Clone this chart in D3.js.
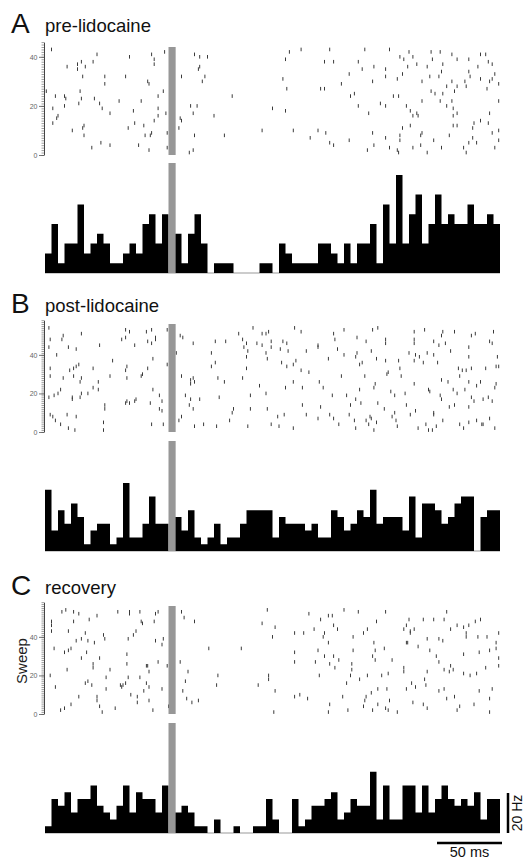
<!DOCTYPE html>
<html>
<head>
<meta charset="utf-8">
<script src="https://cdn.jsdelivr.net/npm/d3@7"></script>
<style>
  body { margin: 0; background: #fff; }
  svg { display: block; }
  text { font-family: "Liberation Sans", Arial, Helvetica, sans-serif; }
</style>
</head>
<body>
<svg id="chart" width="525" height="860"></svg>
<script>

// ---- data (times in ms relative to stimulus, sweep number; rates in Hz, 5 ms bins from -100 ms) ----

var panelLetters = ["A", "B", "C"];
var conditions = ["pre-lidocaine", "post-lidocaine", "recovery"];
var sweepCounts = [44, 56, 56];
var sweepTicks = [0, 20, 40];

var histA = [9.8,24.5,4.9,14.7,14.7,34.3,9.8,14.7,19.6,14.7,
    4.9,4.9,9.8,14.7,9.8,24.5,29.4,14.7,29.4,0,
    19.6,4.9,19.6,29.4,14.7,0,4.9,4.9,4.9,0,
    0,0,0,4.9,4.9,0,14.7,9.8,4.9,4.9,
    4.9,4.9,14.7,14.7,9.8,4.9,14.7,4.9,14.7,14.7,
    24.5,4.9,34.3,14.7,49,14.7,29.4,39.2,14.7,24.5,
    39.2,24.5,29.4,24.5,24.5,34.3,24.5,24.5,29.4,24.5];

var histB = [30.6,10.2,20.4,13.6,23.8,17,3.4,10.2,13.6,13.6,
    3.4,6.8,34,6.8,6.8,13.6,27.2,13.6,13.6,0,
    17,10.2,20.4,6.8,3.4,6.8,13.6,3.4,6.8,6.8,
    13.6,20.4,20.4,20.4,20.4,6.8,17,13.6,13.6,13.6,
    10.2,13.6,6.8,6.8,20.4,17,10.2,13.6,20.4,17,
    30.6,13.6,17,17,17,10.2,27.2,6.8,23.8,23.8,
    20.4,13.6,17,23.8,27.2,27.2,0,17,20.4,20.4];

var histC = [3.4,17,13.6,20.4,10.2,17,17,23.8,13.6,10.2,
    6.8,13.6,23.8,10.2,20.4,17,17,10.2,23.8,0,
    10.2,13.6,10.2,3.4,3.4,0,6.8,0,0,3.4,
    0,0,3.4,3.4,17,6.8,0,0,17,3.4,
    6.8,13.6,13.6,17,20.4,6.8,10.2,17,13.6,13.6,
    30.6,6.8,23.8,6.8,6.8,23.8,23.8,10.2,23.8,10.2,
    17,23.8,17,13.6,17,13.6,20.4,6.8,17,17];

var rasterA = [
    [-95,43],[-60,41],[-35,40],[-18,41],[-8,42],[-16,39],[-16,37],[15,41],[19,40],[25,40],[18,35],[19,36],
    [-83,36],[-75,37],[-72,38],[-75,35],[-63,38],[-69,36],[-71,32],[-54,32],[-54,29],[-38,32],[-21,30],[-20,29],[5,32],[23,32],[21,30],
    [-99,26],[-92,24],[-85,24],[-84,23],[-73,26],[-72,23],[-9,26],[-13,24],[44,24],
    [-94,19],[-85,20],[-74,21],[-62,23],[-58,21],[-56,19],[-50,17],[-43,22],[-32,18],[-26,22],[-13,19],[-7,17],[-13,16],[-16,14],[12,20],[17,20],[14,17],[30,16],
    [-94,13],[-91,15],[-90,16],[4,15],[5,14],[-79,10],[-71,11],[-70,12],[-36,11],[-31,13],[-24,12],
    [-70,8],[-23,8],[-19,8],[-18,9],[-6,9],[3,11],[15,8],[38,8],
    [-64,3],[-57,5],[-50,4],[-28,4],[-20,2],[-6,3],[11,1],[14,2],
    [88,42],[97,43],[119,43],[146,43],[165,43],[85,39],[115,38],[122,38],[141,38],[144,35],[153,36],[162,35],
    [173,40],[176,39],[180,42],[183,40],[186,37],[194,36],[197,42],[198,39],[204,42],[206,37],[213,41],[217,39],[226,39],[235,41],[239,41],[241,38],[244,37],
    [83,31],[86,27],[112,27],[115,27],[128,29],[134,33],[152,30],[162,32],[171,31],[175,33],[179,36],[190,30],[196,32],[203,32],[205,34],[209,28],[213,30],[215,26],[217,28],[223,30],[224,28],[226,34],[227,32],[233,36],[235,31],[240,27],[242,30],[244,31],[246,33],[249,29],
    [75,19],[85,18],[135,24],[138,25],[141,20],[149,17],[158,21],[162,20],[168,24],[172,24],[178,20],[181,18],[183,16],[186,17],[187,16],[190,22],[197,26],[200,25],[204,22],[206,25],[209,20],[213,22],[214,19],[217,17],[214,16],[235,14],[242,17],[249,22],
    [67,10],[91,10],[104,7],[110,10],[116,9],[119,5],[122,4],[134,6],[148,2],[152,9],[153,4],[162,7],[165,3],[171,2],[172,1],[173,8],[173,6],[175,11],[183,3],[181,12],[189,8],[190,9],[189,4],[194,1],[199,6],[205,3],[211,8],[214,12],[217,12],[222,3],[224,1],[226,5],[229,7],[230,13],[229,11],[232,5],[241,13],[244,9],[246,3],[249,10],[249,6]
];

var rasterB = [
    [-97,54],[-96,48],[-87,48],[-86,50],[-72,51],[-82,44],[-76,43],[-97,44],[-91,40],[-58,45],[-96,33],[-81,32],[-78,33],[-76,34],[-74,35],[-63,33],[-78,29],[-72,28],[-73,26],[-86,28],[-96,29],[-50,29],[-48,37],
    [-38,53],[-35,52],[-41,48],[-38,49],[-31,45],[-22,52],[-18,53],[-21,47],[-18,46],[-15,49],[-15,48],[-6,35],[-17,38],[-38,32],[-37,34],[-37,28],[-26,29],[-25,30],[-21,33],
    [-59,26],[-63,23],[-59,22],[-88,22],[-93,19],[-97,18],[-90,20],[-73,18],[-79,18],[-79,17],[-72,20],[-67,20],[-30,17],[-37,16],[-38,15],[-35,15],[-31,16],[-19,15],[-17,22],[-12,19],[-10,16],[-12,12],[-10,11],
    [-54,14],[-54,12],[-55,5],[-55,1],[-83,9],[-76,8],[-96,9],[-94,8],[-92,6],[-88,4],[-82,2],[-77,1],[-18,4],[-9,4],[-6,53],
    [4,50],[6,49],[14,46],[31,47],[39,47],[1,41],[28,41],[5,29],[12,27],[14,28],[12,25],[15,26],[8,19],[12,17],[11,14],[14,12],[19,17],[34,18],[5,8],[3,6],[15,3],[22,4],[32,3],[33,28],[38,26],[31,36],[28,34],
    [49,51],[52,48],[55,46],[56,42],[53,44],[55,39],[55,33],[52,28],[58,19],[58,12],[56,3],[42,6],[44,10],[45,12],[60,54],[63,46],
    [67,51],[70,51],[72,52],[74,47],[67,45],[70,41],[71,38],[74,44],[81,43],[83,47],[86,46],[87,42],[82,36],[86,34],[91,35],[93,37],[97,32],[103,31],[92,54],[97,52],[101,42],[110,45],[110,44],[118,38],
    [65,24],[70,20],[85,23],[91,26],[98,23],[111,26],[114,23],[71,12],[79,8],[84,9],[74,4],[80,3],[91,2],[98,14],[101,9],[110,7],[112,13],[119,9],[122,7],[126,4],
    [122,51],[123,48],[130,53],[140,49],[125,43],[130,40],[139,39],[140,41],[147,47],[151,42],[152,53],[156,54],[162,48],[162,46],[155,38],[162,37],[142,35],[144,36],[164,31],[163,30],[172,37],[173,33],[174,29],
    [128,29],[146,29],[154,25],[153,23],[132,19],[121,19],[142,22],[139,17],[135,14],[143,15],[156,15],[161,12],[166,21],[169,19],[177,20],[178,14],
    [134,9],[138,6],[139,2],[147,6],[150,8],[151,7],[155,5],[149,4],[153,1],[167,8],[169,10],[170,6],[171,3],
    [184,52],[184,48],[184,46],[192,53],[206,52],[205,50],[215,52],[228,50],[231,51],[245,52],[199,47],[203,45],[208,46],[212,42],[180,41],[185,40],[184,37],[188,39],[191,36],[194,41],[199,40],[202,36],
    [226,44],[226,39],[242,47],[244,46],[248,39],[247,34],[249,34],[228,33],[218,33],[221,32],[224,32],[239,33],[205,27],[210,26],[219,29],[226,26],[235,26],
    [184,25],[195,22],[196,21],[204,19],[205,17],[214,22],[217,20],[223,22],[228,18],[232,24],[237,17],[244,16],[246,23],[247,25],
    [181,9],[185,11],[199,10],[199,9],[215,14],[211,13],[226,13],[230,16],[241,18],[219,4],[222,2],[226,5],[232,6],[236,4],[237,4],[242,7],[246,2],[193,4],[201,3],[206,6],[187,2],[198,1],[195,1]
];

var rasterC = [
    [-95,48],[-95,46],[-95,43],[-93,34],[-92,14],[-87,53],[-84,54],[-78,53],[-74,52],[-78,48],[-82,43],[-76,38],[-82,33],[-80,34],[-85,32],[-83,23],[-96,20],[-88,2],[-85,3],[-80,5],[-74,9],
    [-72,29],[-68,32],[-72,39],[-69,42],[-66,49],[-60,51],[-67,38],[-62,37],[-63,26],[-63,24],[-69,16],[-67,17],[-64,15],[-60,9],[-60,7],[-58,4],[-56,1],[-58,29],[-55,41],[-54,39],
    [-50,23],[-53,19],[-53,13],[-46,3],[-44,53],[-35,53],[-36,39],[-37,31],[-30,43],[-32,41],[-37,26],[-36,19],[-40,15],[-42,15],[-38,16],[-41,14],[-34,10],[-29,6],[-27,19],[-29,9],
    [-35,52],[-27,53],[-25,47],[-26,48],[-15,52],[-13,53],[-16,48],[-22,25],[-21,25],[-20,22],[-20,14],[-22,16],[-24,12],[-20,7],[-17,2],[-13,27],[-15,38],[-9,39],[-10,36],[-6,25],[-5,4],[-4,43],[-10,13],
    [5,53],[7,50],[4,27],[8,17],[6,12],[9,8],[13,6],[10,22],[15,48],[18,7],[26,34],[32,15],[33,20],[51,34],[64,15],
    [71,54],[67,47],[77,45],[75,40],[72,20],[72,18],[77,12],[76,1],[92,42],[99,42],[103,52],[112,49],[107,44],[115,42],[114,40],[118,51],[121,51],[118,37],[122,46],[125,44],[130,54],[141,53],
    [110,33],[92,32],[92,27],[108,27],[115,30],[119,26],[123,24],[122,30],[126,28],[111,20],[92,9],[96,10],[102,8],[119,5],[118,1],
    [137,40],[145,42],[148,44],[155,48],[162,53],[153,37],[154,33],[152,30],[154,28],[161,34],[167,28],[137,33],[136,26],[136,23],[135,20],[142,18],[148,20],[159,20],[164,21],[156,13],[163,13],
    [132,16],[129,9],[133,2],[147,9],[146,7],[151,11],[145,4],[152,2],[156,5],[162,3],[164,2],[171,1],[165,7],
    [176,44],[178,46],[180,49],[181,43],[181,42],[184,44],[179,37],[191,49],[199,49],[207,49],[209,53],[187,35],[196,33],[201,30],[203,39],[206,38],[212,44],[217,46],[222,45],[226,46],[231,48],[235,49],
    [224,42],[224,40],[233,40],[240,40],[249,42],[247,37],[247,34],[242,33],[234,32],[222,31],[249,29],[249,25],[239,24],[232,21],[227,20],[222,21],[214,23],[212,25],[211,22],[207,23],[203,27],[194,22],
    [176,24],[176,22],[182,16],[185,14],[192,18],[193,15],[178,13],[203,12],[207,13],[215,9],[209,8],[234,12],[244,13],[242,8],[183,6],[191,5],[194,3],[219,4],[217,2],[230,5],[242,1],[178,37],[194,39]
];

var rasters = [rasterA, rasterB, rasterC];
var hists = [histA, histB, histC];

// ---- layout ----

var TIME_DOMAIN = [-100, 250];
var BIN_MS = 5;
var STIM = [-5, 0.5];
var RASTER_H = 108;
var HIST_H = 110;
var HZ_MAX = 55;   // 2 px per Hz
var GRAY = '#979797';

var rasterBottoms = [155, 432, 714];
var histBases = [273, 551, 833];
var titleBaselines = [33, 313, 595];

var svg = d3.select('#chart');

var xScale = d3.scaleLinear().domain(TIME_DOMAIN).range([45, 500]);

function _drawRaster(g, i) {
    var n = sweepCounts[i];
    var bottom = rasterBottoms[i];
    var pps = RASTER_H / n;
    var axisMax = n + 2;
    var yScale = d3.scaleLinear().domain([0, axisMax]).range([bottom, bottom - axisMax * pps]);

    var minor = g.append('g')
        .attr('transform', 'translate(44,0)')
        .call(d3.axisLeft(yScale).tickValues(d3.range(0, axisMax + 1)).tickSize(2.5).tickSizeOuter(0).tickFormat(''));
    minor.select('.domain').attr('stroke', '#444').attr('stroke-width', 1);
    minor.selectAll('.tick line').attr('stroke', '#777').attr('stroke-width', 0.7);

    var major = g.append('g')
        .attr('transform', 'translate(44,0)')
        .call(d3.axisLeft(yScale).tickValues(sweepTicks).tickSize(5).tickPadding(1.5));
    major.select('.domain').remove();
    major.selectAll('.tick line').attr('stroke', '#555').attr('stroke-width', 0.8);
    major.selectAll('.tick text')
        .attr('font-size', 7)
        .attr('fill', '#666')
        .style('font-family', '"Liberation Sans", Arial, sans-serif');

    g.append('g').selectAll('line')
        .data(rasters[i])
        .enter().append('line')
        .attr('x1', function (d) { return xScale(d[0]); })
        .attr('x2', function (d) { return xScale(d[0]); })
        .attr('y1', function (d) { return yScale(d[1]) - 1.8; })
        .attr('y2', function (d) { return yScale(d[1]) + 1.8; })
        .attr('stroke', '#3a3a3a')
        .attr('stroke-width', 1);

    g.append('rect')
        .attr('x', xScale(STIM[0]))
        .attr('width', xScale(STIM[1]) - xScale(STIM[0]))
        .attr('y', yScale(n))
        .attr('height', yScale(0) - yScale(n))
        .attr('fill', GRAY);
}

function _drawHist(g, i) {
    var base = histBases[i];
    var yScale = d3.scaleLinear().domain([0, HZ_MAX]).range([base, base - HIST_H]);
    var values = hists[i];
    var bins = values.map(function (v, k) {
        return {t: TIME_DOMAIN[0] + k * BIN_MS, v: v};
    });
    bins.push({t: TIME_DOMAIN[1], v: values[values.length - 1]});

    g.append('line')
        .attr('x1', xScale(TIME_DOMAIN[0])).attr('x2', xScale(TIME_DOMAIN[1]))
        .attr('y1', base).attr('y2', base)
        .attr('stroke', '#999').attr('stroke-width', 1);

    var area = d3.area()
        .curve(d3.curveStepAfter)
        .x(function (d) { return xScale(d.t); })
        .y0(base)
        .y1(function (d) { return yScale(d.v); });

    g.append('path')
        .datum(bins)
        .attr('d', area)
        .attr('fill', '#000');

    g.append('rect')
        .attr('x', xScale(STIM[0]))
        .attr('width', xScale(STIM[1]) - xScale(STIM[0]))
        .attr('y', base - HIST_H)
        .attr('height', HIST_H)
        .attr('fill', GRAY);

    return yScale;
}

var lastHistY;
panelLetters.forEach(function (letter, i) {
    var g = svg.append('g');
    g.append('text')
        .attr('x', 11)
        .attr('y', titleBaselines[i])
        .attr('font-size', 28)
        .attr('fill', '#111')
        .text(letter);
    g.append('text')
        .attr('x', 45)
        .attr('y', titleBaselines[i] - 1)
        .attr('font-size', 18.5)
        .attr('fill', '#111')
        .text(conditions[i]);
    _drawRaster(g, i);
    lastHistY = _drawHist(g, i);
});

// "Sweep" label next to the last raster
svg.append('text')
    .attr('transform', 'translate(27,' + (rasterBottoms[2] - 53) + ') rotate(-90)')
    .attr('text-anchor', 'middle')
    .attr('font-size', 15)
    .attr('fill', '#222')
    .text('Sweep');

// scale bars
var barX = xScale(TIME_DOMAIN[1]) + 8;
svg.append('line')
    .attr('x1', barX).attr('x2', barX)
    .attr('y1', lastHistY(0)).attr('y2', lastHistY(20))
    .attr('stroke', '#000').attr('stroke-width', 2.5);
svg.append('text')
    .attr('transform', 'translate(521.5,' + lastHistY(10) + ') rotate(-90)')
    .attr('text-anchor', 'middle')
    .attr('font-size', 14)
    .attr('fill', '#111')
    .text('20 Hz');

svg.append('line')
    .attr('x1', xScale(200) + 2).attr('x2', xScale(250) + 2)
    .attr('y1', 843).attr('y2', 843)
    .attr('stroke', '#000').attr('stroke-width', 2.5);
svg.append('text')
    .attr('x', xScale(225) + 2)
    .attr('y', 857)
    .attr('text-anchor', 'middle')
    .attr('font-size', 14.5)
    .attr('fill', '#111')
    .text('50 ms');

</script>
</body>
</html>
